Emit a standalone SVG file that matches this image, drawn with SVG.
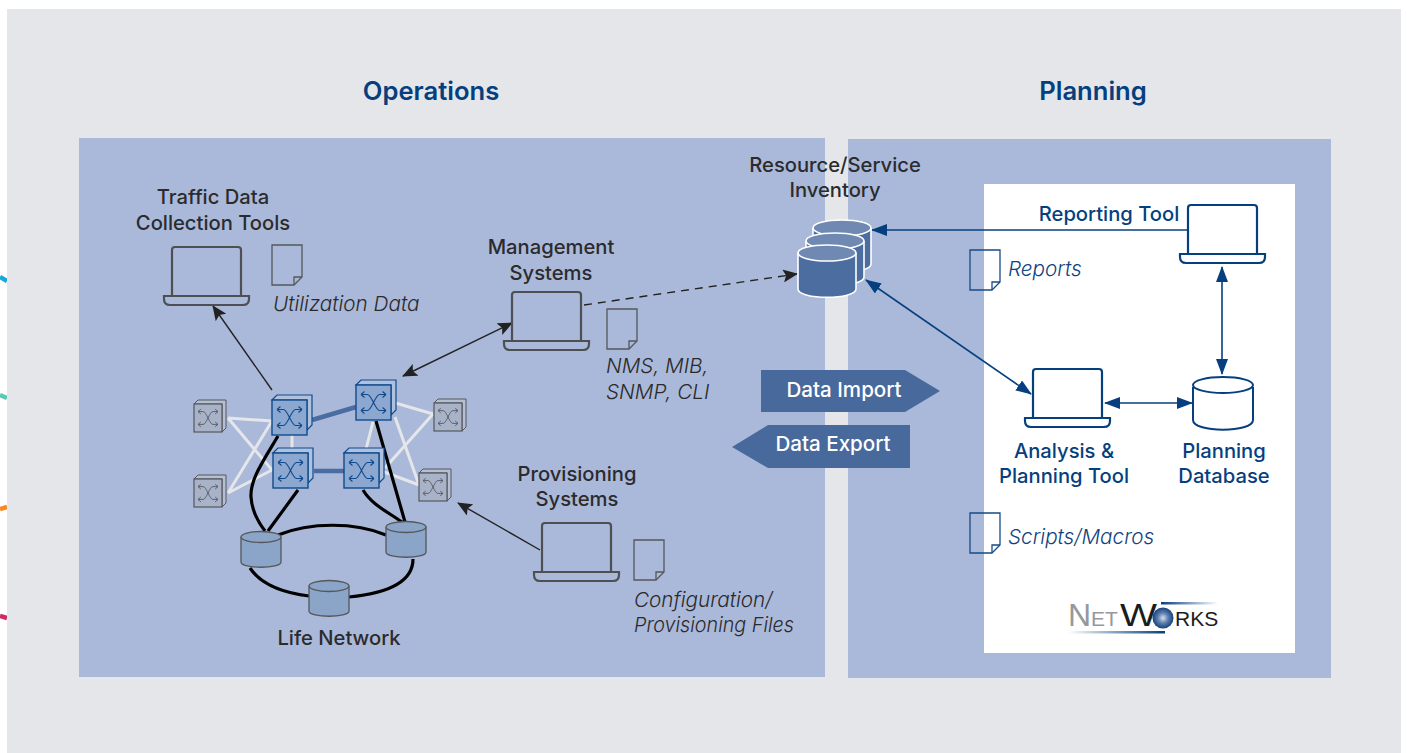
<svg xmlns="http://www.w3.org/2000/svg" width="1407" height="753" viewBox="0 0 1407 753">
<style>
text{font-family:"Inter","Liberation Sans",sans-serif;font-size:20.2px;font-weight:500;text-anchor:middle;fill:#2b2b2d}
.t{font-size:25.6px;font-weight:600;fill:#063f7e}
.b{fill:#063f7e;font-size:20.2px;font-weight:500}
.i{font-style:italic;text-anchor:start;font-size:20.7px;fill:#2a2a2c;font-weight:300}
.ib{font-style:italic;text-anchor:start;fill:#0f4480;font-weight:300;font-size:20.7px}
.w{fill:#fff;font-size:20.6px}
.lap{fill:none;stroke:#4d4f52;stroke-width:2.2}
.lapb{fill:none;stroke:#063f7e;stroke-width:2.2}
.doc{fill:none;stroke:#55575a;stroke-width:1.3}
.docb{fill:none;stroke:#174a86;stroke-width:1.3}
.k{fill:none;stroke:#000;stroke-width:3.2}
.l{fill:none;stroke:#e4e6ea;stroke-width:3}
.tk{fill:none;stroke:#4a6ca2;stroke-width:4.5}
.a{fill:none;stroke:#222;stroke-width:1.4}
.ab{fill:none;stroke:#063f7e;stroke-width:1.6}
.logo{font-family:"Liberation Sans",sans-serif;text-anchor:start;font-weight:400}
</style>
<defs>
<marker id="ah" viewBox="0 0 15 13" refX="14" refY="6.5" markerWidth="15" markerHeight="13" markerUnits="userSpaceOnUse" orient="auto-start-reverse"><path d="M0 0L15 6.5L0 13L3 6.5Z" fill="#222"/></marker>
<marker id="ahb" viewBox="0 0 16 12" refX="15" refY="6" markerWidth="16" markerHeight="12" markerUnits="userSpaceOnUse" orient="auto-start-reverse"><path d="M0 0L16 6L0 12Z" fill="#063f7e"/></marker>
<linearGradient id="g1"><stop offset="0" stop-color="#fff"/><stop offset="1" stop-color="#063f7e"/></linearGradient>
<linearGradient id="g2"><stop offset="0" stop-color="#063f7e"/><stop offset="1" stop-color="#fff"/></linearGradient>
<radialGradient id="sph" cx=".5" cy=".5" r=".55"><stop offset="0" stop-color="#d8dfe9"/><stop offset=".45" stop-color="#5c7fb0"/><stop offset="1" stop-color="#0a3670"/></radialGradient>
<g id="arrows"><path d="M-12.5 -8H-6C-2 -8 2 8 6 8H12.5M-12.5 8H-6C-2 8 2 -8 6 -8H12.5M-12.5 -8l3.5 -3M-12.5 -8l3.5 3M-12.5 8l3.5 -3M-12.5 8l3.5 3M12.5 -8l-3.5 -3M12.5 -8l-3.5 3M12.5 8l-3.5 -3M12.5 8l-3.5 3" fill="none" stroke-width="1.1"/></g>
<g id="swb"><path d="M0 0l5 -5h35v30l-5 5V0Z" fill="#b0c1de" stroke="#0f4a8c" stroke-width="1.2"/><rect width="35" height="35" fill="#8ca7d0" stroke="#0f4a8c" stroke-width="1.4"/><use href="#arrows" x="17.5" y="17.5" stroke="#0f4a8c"/></g>
<g id="swg"><path d="M0 0l4 -4h28v28l-4 4V0Z" fill="#b5bfd4" stroke="#55575a"/><rect width="28" height="28" fill="#a8b3ca" stroke="#55575a" stroke-width="1.2"/><use href="#arrows" transform="translate(14 14) scale(.8)" stroke="#55575a"/></g>
<g id="db"><path d="M0 5V30C0 37 40 37 40 30V5" fill="#8ba5c9" stroke="#55575a" stroke-width="1.3"/><ellipse cx="20" cy="5" rx="20" ry="5.5" fill="#8ba5c9" stroke="#55575a" stroke-width="1.3"/></g>
<g id="dbi"><path d="M0 8V44C0 55 58 55 58 44V8" fill="#4b6d9f" stroke="#fff" stroke-width="1.6"/><ellipse cx="29" cy="8" rx="29" ry="8" fill="#6f89b3" stroke="#fff" stroke-width="1.6"/></g>
<g id="lapg"><path d="M0 49V3q0-3 3-3H66q3 0 3 3V49"/><path d="M-8 49H77V52q0 6-6 6H-2q-6 0-6-6Z"/></g>
<g id="fold"><path d="M0 0H30V32L22 40H0Z"/><path d="M22 40V32H30"/></g>
</defs>

<rect width="1407" height="753" fill="#fff"/>
<path d="M0 277L7 281" stroke="#15a8d8" stroke-width="4.5"/>
<path d="M0 395L7 398" stroke="#5ac8b6" stroke-width="4.5"/>
<path d="M0 509L7 507" stroke="#f58a23" stroke-width="4.5"/>
<path d="M0 616L7 618" stroke="#cf2a68" stroke-width="4.5"/>
<rect x="7" y="9" width="1394" height="744" fill="#e4e6e9"/>
<rect id="panel-operations" x="79" y="138" width="746" height="539" fill="#aab9d9"/>
<rect id="panel-planning" x="848" y="139" width="483" height="539" fill="#aab9d9"/>
<rect id="panel-tool" x="984" y="184" width="311" height="469" fill="#fff"/>
<text class="t" x="431" y="100">Operations</text>
<text class="t" x="1093" y="100">Planning</text>

<g id="connectors">
<path class="l" d="M228 418L272 421M228 418L272 470M228 493L272 470M228 493L272 421M292 435V453M392 402L433 414M433 414L385 468M419 485L379 470M419 485L395 417M373 422L365 453"/>
<path class="tk" d="M312 420L356 407M314 471H344"/>
<path class="k" d="M278 436C262 463 250 480 251 497C252 512 258 522 265 531M298 490L268 531M376 421L405 522M363 490C372 505 388 512 402 522M278 535C310 522 355 522 386 535M250 568C262 586 285 593 309 596M349 597C380 594 413 585 413 559"/>
<path class="a" d="M272 390L213 306" marker-end="url(#ah)"/>
<path class="a" d="M403 376L512 323" marker-start="url(#ah)" marker-end="url(#ah)"/>
<path class="a" d="M584 305L797 274" stroke-dasharray="8 6" marker-end="url(#ah)"/>
<path class="a" d="M540 550L458 503" marker-end="url(#ah)"/>
<path class="ab" d="M1188 230H872" marker-end="url(#ahb)"/>
<path class="ab" d="M1031 394L866 280" marker-start="url(#ahb)" marker-end="url(#ahb)"/>
<path class="ab" d="M1222 267V374" marker-start="url(#ahb)" marker-end="url(#ahb)"/>
<path class="ab" d="M1105 403H1192" marker-start="url(#ahb)" marker-end="url(#ahb)"/>
</g>

<g id="switches">
<use href="#swg" x="194" y="404"/><use href="#swg" x="194" y="479"/><use href="#swg" x="434" y="403"/><use href="#swg" x="419" y="473"/>
<use href="#swb" x="272" y="400"/><use href="#swb" x="356" y="385"/><use href="#swb" x="273" y="453"/><use href="#swb" x="344" y="453"/>
</g>
<g id="life-network">
<use href="#db" x="241" y="532"/><use href="#db" x="386" y="522"/><use href="#db" x="309" y="581"/>
<text x="339" y="645">Life Network</text>
</g>
<g id="traffic-tools"><use href="#lapg" class="lap" x="172" y="247"/><text x="213" y="204">Traffic Data</text><text x="213" y="230">Collection Tools</text></g>
<g id="utilization-data"><use href="#fold" class="doc" x="272" y="245"/><text class="i" x="273" y="311">Utilization Data</text></g>
<g id="management-systems"><use href="#lapg" class="lap" x="512" y="292"/><text x="551" y="254">Management</text><text x="551" y="280">Systems</text></g>
<g id="nms-doc"><use href="#fold" class="doc" x="607" y="309"/><text class="i" x="606" y="373">NMS, MIB,</text><text class="i" x="606" y="399">SNMP, CLI</text></g>
<g id="provisioning-systems"><use href="#lapg" class="lap" x="542" y="523"/><text x="577" y="481">Provisioning</text><text x="577" y="506">Systems</text></g>
<g id="config-doc"><use href="#fold" class="doc" x="634" y="540"/><text class="i" x="634" y="607">Configuration/</text><text class="i" x="634" y="632" textLength="160" lengthAdjust="spacingAndGlyphs">Provisioning Files</text></g>
<g id="inventory">
<text x="835" y="172">Resource/Service</text><text x="835" y="197">Inventory</text>
<use href="#dbi" x="813" y="220"/><use href="#dbi" x="806" y="233"/><use href="#dbi" x="798" y="245"/>
</g>
<g id="reporting-tool"><use href="#lapg" class="lapb" x="1188" y="205"/><text class="b" x="1109" y="221">Reporting Tool</text></g>
<g id="reports"><use href="#fold" class="docb" x="970" y="250"/><text class="ib" x="1008" y="276">Reports</text></g>
<g id="analysis-tool"><use href="#lapg" class="lapb" x="1033" y="369"/><text class="b" x="1064" y="458">Analysis &amp;</text><text class="b" x="1064" y="483">Planning Tool</text></g>
<g id="planning-db"><path d="M1193 387V420C1193 433 1253 433 1253 420V387" fill="#fff" stroke="#063f7e" stroke-width="2"/><ellipse cx="1223" cy="385" rx="30" ry="8" fill="#fff" stroke="#063f7e" stroke-width="2"/><text class="b" x="1224" y="458">Planning</text><text class="b" x="1224" y="483">Database</text></g>
<g id="scripts"><use href="#fold" class="docb" x="970" y="513"/><text class="ib" x="1008" y="544">Scripts/Macros</text></g>
<g id="data-import"><path d="M761 370H905L940 391L905 412H761Z" fill="#48699c"/><text class="w" x="844" y="397">Data Import</text></g>
<g id="data-export"><path d="M910 425H768L732 447L768 468H910Z" fill="#48699c"/><text class="w" x="833" y="451">Data Export</text></g>
<g id="logo">
<rect x="1068" y="631" width="97" height="2.5" fill="url(#g1)"/><rect x="1161" y="602" width="57" height="2.5" fill="url(#g2)"/>
<text class="logo" x="1068" y="626" style="font-size:32px;fill:#96989c">N<tspan style="font-size:21px">ET</tspan></text>
<text class="logo" x="1120" y="626" textLength="37" lengthAdjust="spacingAndGlyphs" style="font-size:32px;fill:#1c1c1e">W</text>
<circle cx="1163" cy="618" r="10.5" fill="url(#sph)"/>
<text class="logo" x="1175" y="626" style="font-size:21px;fill:#1c1c1e">RKS</text>
</g>
</svg>
